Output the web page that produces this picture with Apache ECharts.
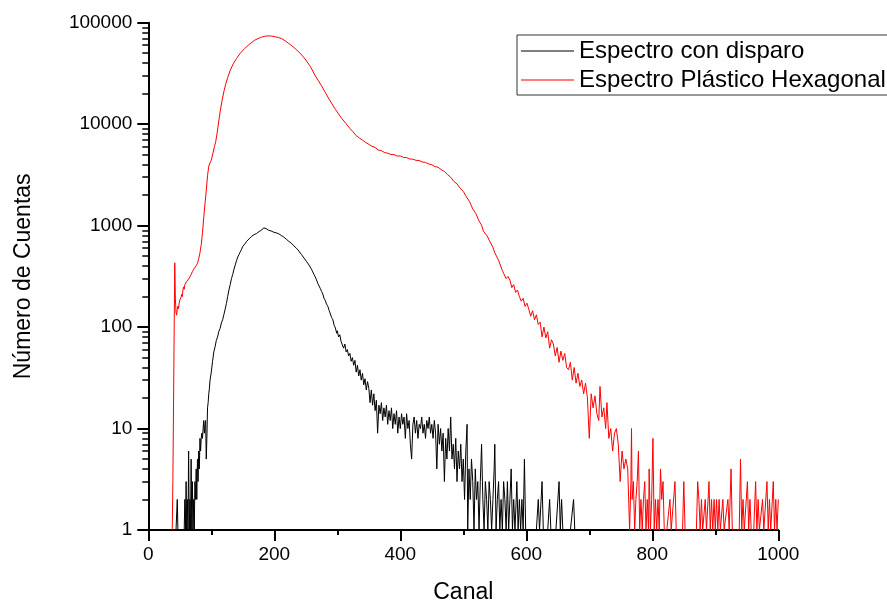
<!DOCTYPE html>
<html>
<head>
<meta charset="utf-8">
<script src="https://cdn.jsdelivr.net/npm/echarts@6/dist/echarts.min.js"></script>
<style>
  html, body { margin: 0; padding: 0; background: #fff; }
  #chart { width: 887px; height: 603px; }
</style>
</head>
<body>
<div id="chart"></div>
<script>
// Counts per channel, [canal, cuentas]
const seriesNames = ['Espectro con disparo', 'Espectro Plástico Hexagonal'];

const blackOnset = [
  [44,1],[45,1],[46,2],[47,1],[57,1],[58,2],[59,1],[60,3],[61,1],[62,2],[63,1],[64,6],[65,1],[66,2],[67,1],
  [68,5],[69,1],[70,3],[71,1],[72,2],[73,1],[74,3],[75,2],[76,4],[77,2],[78,5],[79,3],[80,6],[81,4],[82,8],
  [83,6],[84,8],[85,9],[86,8],[87,10],[88,12],[89,9],[90,11],[91,12],[92,5],[93,8],[94,16],[95,18],[96,22],[97,25]
];
const blackPeak = [
  [98,30],[100,36],[102,46],[104,57],[106,64],[108,74],[110,80],[112,91],[114,97],[116,110],[118,118],[120,133],
  [122,150],[124,171],[126,200],[128,232],[130,262],[132,300],[134,330],[136,372],[138,410],[140,450],[142,490],
  [144,520],[146,552],[148,585],[150,625],[152,650],[154,668],[156,700],[158,718],[160,740],[162,748],[164,785],
  [166,790],[168,815],[170,830],[172,838],[174,860],[176,875],[178,880],[180,905],[182,925],[183,950],[185,915],
  [187,935],[189,905],[191,900],[193,880],[195,885],[197,860],[199,862],[201,845],[203,848],[205,830],[207,832],
  [209,805],[211,800],[213,780],[215,772],[217,760],[219,735],[221,722],[223,700],[225,690],[227,672],[229,660],
  [231,632],[233,620],[235,600],[237,585],[239,562],[241,548],[243,520],[245,505],[247,480],[249,470],[251,445],
  [253,430],[255,410],[257,395],[259,372],[261,350],[263,330],[265,312],[267,292],[269,270],[271,262],[273,240],
  [275,225],[277,212],[279,192],[281,182],[283,168],[285,160],[287,146],[289,140],[291,124],[293,118],[295,104],
  [297,98],[299,87]
];
const blackTail = [
  [300,92],[302,80],[304,84],[306,72],[308,75],[310,62],[312,68],[314,57],[316,60],[318,52],[320,55],[322,46],
  [324,50],[326,42],[328,47],[330,36],[332,42],[334,33],[336,38],[338,30],[340,35],[342,27],[344,31],[346,24],
  [348,29],[350,25],[352,18],[354,24],[356,17],[358,22],[360,15],[362,19],[364,9],[366,17],[368,14],[370,18],
  [372,12],[374,16],[376,13],[378,17],[380,11],[382,15],[384,12],[386,16],[388,10],[390,14],[392,11],[394,15],
  [396,9],[398,13],[400,10],[402,14],[404,11],[406,13],[408,8],[410,14],[412,10],[414,12],[416,7],[418,5],
  [420,11],[422,13],[424,9],[426,12],[428,8],[430,11],[432,10],[434,13],[436,9],[438,11],[440,8],[442,12],
  [444,10],[446,13],[448,9],[450,11],[452,8],[454,12],[456,9],[458,4],[460,11],[462,7],[464,10],[466,6],
  [468,9],[470,3],[472,8],[474,5],[476,10],[478,6],[480,13],[482,5],[484,7],[486,4],[488,8],[490,3],[492,6],
  [494,4],[496,7],[498,3],[500,5],[502,2],[504,6],[506,11],[507,1],[509,4],[511,2],[513,5],[515,3],[517,1],
  [519,4],[521,2],[523,3],[525,1],[527,3],[529,7],[531,2],[533,1],[535,3],[537,2],[539,1],[541,3],[543,2],
  [545,1],[547,2],[549,4],[550,7],[552,1],[554,2],[556,3],[558,1],[560,2],[562,1],[564,3],[566,2],[568,1],
  [570,3],[572,1],[574,2],[576,4],[578,1],[580,2],[582,1],[584,2],[585,3],[587,1],[589,2],[591,1],[593,2],
  [595,1],[597,5],[599,1],[601,1],[604,1],[607,1],[610,1],[613,1],[616,1],[619,2],[621,1],[624,1],[625,3],
  [627,1],[630,1],[634,1],[637,2],[639,1],[643,1],[647,1],[650,1],[652,3],[654,1],[656,2],[658,1],[662,1],
  [666,1],[670,1],[673,1],[675,2],[677,1],[680,1],[700,1]
];

const redOnset = [
  [38,1],[39,3],[42,430],[43,190],[44,140],[45,131],[46,150],[47,161],[48,152],[49,172],[50,185],[51,178],
  [52,196],[53,210],[54,200],[55,232],[56,249],[57,236],[58,262],[60,270],[61,282],[62,275],[64,298],[66,313],
  [68,330],[70,352],[72,372],[74,388],[76,402],[78,425],[80,470],[82,540],[84,650],[86,850],[88,1200],
  [90,1650],[92,2200],[94,3100],[96,3850],[98,4150],[100,4420]
];
const redBody = [
  [103,5300],[105,6000],[107,6700],[109,8000],[111,9800],[114,13200],[117,17000],[120,21000],[123,25000],
  [126,28800],[130,34000],[135,39500],[140,44400],[146,50000],[153,55700],[160,61000],[169,67300],[178,71500],
  [185,73600],[190,74100],[196,73800],[202,72500],[207,71300],[212,69500],[217,66500],[222,63000],[228,59200],
  [233,55700],[241,50000],[249,43800],[257,37200],[265,30000],[270,26800],[275,23900],[281,20500],[288,17200],
  [297,14000],[307,11400],[314,10100],[320,9070],[325,8400]
];
const redShoulder = [
  [330,7700],[335,7300],[340,6950],[345,6600],[350,6330],[355,6050],[360,5900],[365,5560],[370,5480],
  [375,5250],[380,5180],[385,5020],[390,5010],[395,4850],[400,4860],[405,4700],[410,4680],[415,4530],
  [420,4520],[425,4400],[430,4380],[435,4240],[440,4200],[445,4050],[450,3990],[455,3820],[460,3760],
  [465,3560],[470,3420],[475,3180],[480,3000],[485,2730],[490,2580],[495,2340],[500,2170],[505,1920],
  [510,1720],[515,1460],[520,1310],[525,1110]
];
const redFalloff = [
  [526,1090],[529,1010],[532,880],[535,870],[538,790],[541,720],[544,700],[547,610],[550,540],[553,530],
  [556,455],[559,445],[562,360],[565,370],[568,300],[571,315],[574,290],[577,245],[580,262],[583,220],
  [586,232],[589,200],[592,180],[595,192],[598,160],[601,172],[604,150],[607,128],[610,145],[613,118],
  [616,132],[619,106],[622,112],[625,80],[628,100],[631,78],[634,90],[637,62],[640,75],[643,68],[646,52],
  [649,63],[652,45],[655,58],[658,47],[661,55],[664,40],[667,38],[670,45],[673,30],[676,40],[679,28],
  [682,35],[685,26],[688,30],[691,22],[694,28],[697,20],[700,8],[703,22],[706,16],[709,21],[712,14],
  [715,12],[717,26],[720,13],[723,16],[726,10],[728,18],[731,8],[734,10],[737,6],[740,9],[743,10],[746,7],
  [749,3],[752,6],[755,4],[758,5],[761,4],[763,4]
];
const redTail = [
  [764,1],[766,3],[767,10],[768,2],[770,3],[772,1],[774,2],[776,3],[778,6],[780,1],[782,2],[784,1],[786,2],
  [788,3],[790,1],[792,2],[794,1],[795,4],[797,1],[799,2],[801,8],[803,1],[805,2],[807,1],[809,2],[811,1],
  [813,4],[815,2],[817,3],[819,1],[821,1],[823,1],[826,1],[828,2],[830,1],[833,1],[836,3],[838,1],[840,1],
  [843,1],[846,1],[848,1],[850,3],[852,1],[855,1],[858,1],[861,1],[864,1],[867,1],[870,1],[872,3],[874,2],
  [876,1],[878,2],[880,1],[882,1],[884,2],[886,1],[888,1],[890,3],[892,1],[894,2],[896,1],[898,2],[900,1],
  [902,2],[904,1],[906,2],[908,1],[910,1],[912,2],[914,1],[917,1],[920,2],[922,1],[925,4],[927,1],[930,1],
  [933,1],[936,1],[938,1],[940,5],[942,1],[944,2],[946,1],[948,1],[951,3],[953,1],[955,2],[957,1],[959,1],
  [961,1],[964,3],[966,1],[968,2],[970,1],[972,1],[975,2],[977,1],[980,1],[982,3],[984,1],[986,2],[988,1],
  [990,1],[992,3],[994,1],[996,2],[998,1],[1000,2]
];

const xTicks = [0, 200, 400, 600, 800, 1000];
const yTicks = [1, 10, 100, 1000, 10000, 100000];

const blackData = blackOnset.concat(blackPeak, blackTail);
const redData = redOnset.concat(redBody, redShoulder, redFalloff, redTail);

// minor log ticks at 2..9 of every decade
const yMinor = [];
for (let d = 1; d < 100000; d *= 10) {
  for (let m = 2; m <= 9; m++) yMinor.push(m * d);
}

const FONT = '"Liberation Sans", Arial, sans-serif';

const chart = echarts.init(document.getElementById('chart'), null, { renderer: 'canvas' });
chart.setOption({
  animation: false,
  backgroundColor: '#ffffff',
  textStyle: { fontFamily: FONT, color: '#000' },
  grid: { left: 148.3, right: 108.7, top: 22.7, bottom: 73, containLabel: false, outerBoundsMode: 'none' },
  legend: {
    left: 517, top: 35,
    orient: 'vertical',
    icon: 'rect', itemWidth: 53, itemHeight: 1, itemGap: 5,
    padding: [4, 30, 3, 4],
    borderColor: '#333', borderWidth: 1,
    textStyle: { fontFamily: FONT, fontSize: 24, color: '#000' },
    data: seriesNames
  },
  xAxis: {
    type: 'value', min: xTicks[0], max: xTicks[xTicks.length - 1], interval: 200,
    name: 'Canal', nameLocation: 'middle', nameGap: 51,
    nameTextStyle: { fontFamily: FONT, fontSize: 23, color: '#000' },
    axisLine: { show: true, onZero: false, lineStyle: { color: '#000', width: 2 } },
    axisTick: { show: true, length: 11, lineStyle: { color: '#000', width: 2 } },
    minorTick: { show: true, splitNumber: 2, length: 5, lineStyle: { color: '#000', width: 2 } },
    axisLabel: { fontFamily: FONT, fontSize: 19, color: '#000', margin: 15, formatter: v => String(v) },
    splitLine: { show: false }
  },
  yAxis: [{
    type: 'log', logBase: 10, min: yTicks[0], max: yTicks[yTicks.length - 1],
    name: 'Número de Cuentas', nameLocation: 'middle', nameGap: 113,
    nameTextStyle: { fontFamily: FONT, fontSize: 23, color: '#000' },
    axisLine: { show: true, lineStyle: { color: '#000', width: 2 } },
    axisTick: { show: true, length: 11, customValues: yTicks, lineStyle: { color: '#000', width: 2 } },
    axisLabel: {
      fontFamily: FONT, fontSize: 19, color: '#000', margin: 16,
      customValues: yTicks,
      formatter: v => String(Math.round(v))
    },
    splitLine: { show: false }
  }, {
    type: 'log', logBase: 10, min: yTicks[0], max: yTicks[yTicks.length - 1],
    position: 'left',
    axisLine: { show: false },
    axisTick: { show: true, length: 6, customValues: yMinor, lineStyle: { color: '#000', width: 1.5 } },
    axisLabel: { show: false },
    splitLine: { show: false }
  }],
  series: [{
    name: seriesNames[0], type: 'line', yAxisIndex: 0,
    data: blackData, showSymbol: false, symbol: 'none',
    lineStyle: { color: '#000', width: 1 }, itemStyle: { color: '#000' }, z: 3
  }, {
    name: seriesNames[1], type: 'line', yAxisIndex: 0,
    data: redData, showSymbol: false, symbol: 'none',
    lineStyle: { color: '#ff0000', width: 1 }, itemStyle: { color: '#ff0000' }, z: 4
  }]
});
</script>
</body>
</html>
